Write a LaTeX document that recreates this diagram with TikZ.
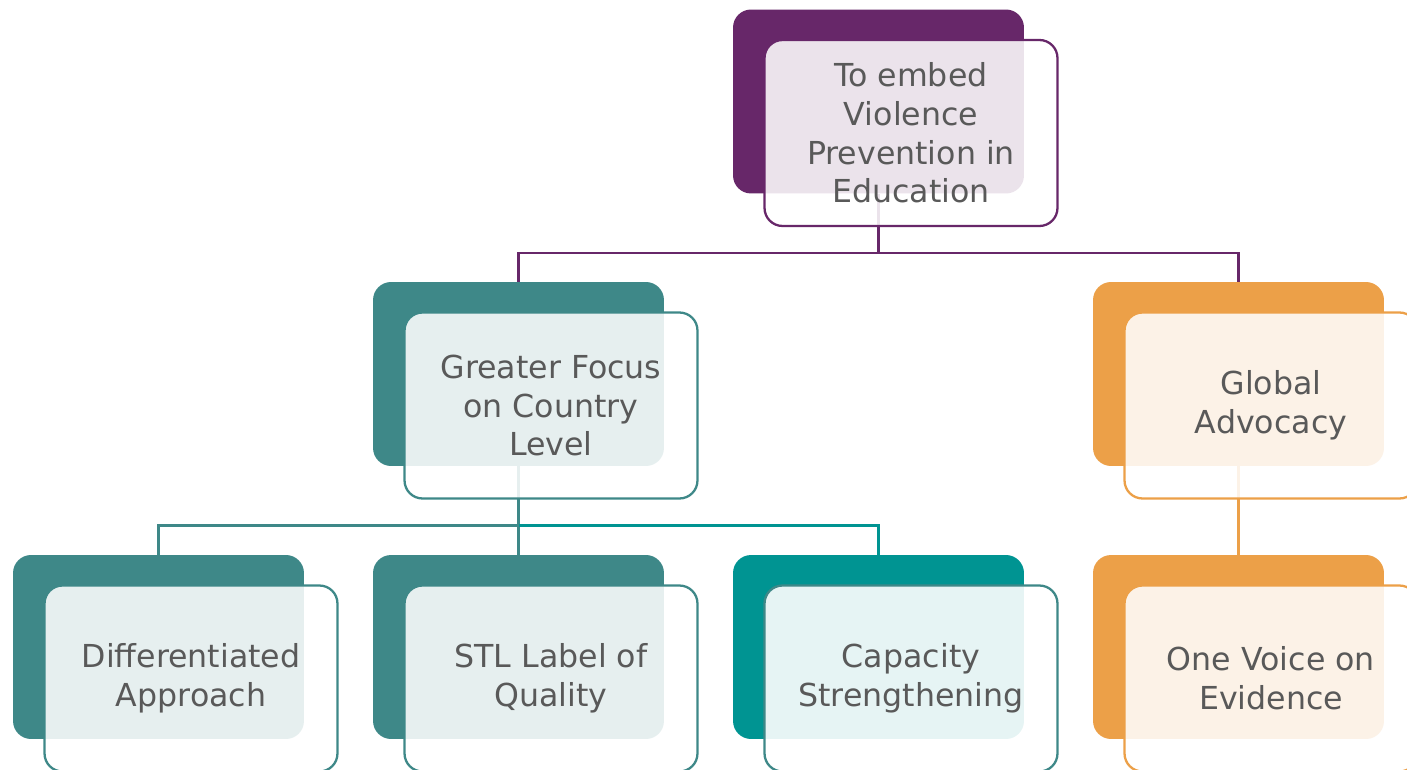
\documentclass[tikz,border=0pt]{standalone}
\usepackage{fontspec}
\setmainfont{DejaVu Sans}
\usepackage{tikz}
\usetikzlibrary{calc,backgrounds}
\usepackage{xcolor}
\definecolor{plum}{RGB}{103,39,105}
\definecolor{sea}{RGB}{62,136,136}
\definecolor{aqua}{RGB}{0,148,146}
\definecolor{amber}{RGB}{236,160,72}
\definecolor{txtgray}{RGB}{89,89,89}

\begin{document}
\begin{tikzpicture}[x=0.02cm, y=-0.02cm,
  back/.style={rounded corners=0.36cm, minimum width=5.82cm, minimum height=3.68cm, inner sep=0pt, fill=#1},
  front/.style={rounded corners=0.36cm, minimum width=5.86cm, minimum height=3.72cm, inner sep=0pt,
    draw=#1, line width=1.3pt, fill=white, fill opacity=0.87, text opacity=1, text=txtgray,
    align=center, font=\fontsize{18}{22}\selectfont},
  link/.style={draw=#1, line width=1.4pt}]

\useasboundingbox (0,0) rectangle (1407,770);

% top
\node[back=plum] (topb) at (878.5,101.5) {};
\node[front=plum] (topf) at ($(topb)+(32.5,31.5)$) {To embed\\Violence\\Prevention in\\Education};

% second row
\node[back=sea] (focb) at (518.5,374) {};
\node[front=sea] (focf) at ($(focb)+(32.5,31.5)$) {Greater Focus\\on Country\\Level};
\node[back=amber] (glob) at (1238.5,374) {};
\node[front=amber] (glof) at ($(glob)+(32.5,31.5)$) {Global\\Advocacy};

% third row
\node[back=sea] (difb) at (158.5,647) {};
\node[front=sea] (diff) at ($(difb)+(32.5,31.5)$) {Differentiated\\Approach};
\node[back=sea] (stlb) at (518.5,647) {};
\node[front=sea] (stlf) at ($(stlb)+(32.5,31.5)$) {STL Label of\\Quality};
\node[back=aqua] (capb) at (878.5,647) {};
\node[front=sea, fill opacity=0.9] (capf) at ($(capb)+(32.5,31.5)$) {Capacity\\Strengthening};
\node[back=amber] (oneb) at (1238.5,647) {};
\node[front=amber] (onef) at ($(oneb)+(32.5,31.5)$) {One Voice on\\Evidence};

% connectors under the boxes
\begin{scope}[on background layer]
\draw[link=plum] (topb.south) -- ++(0,59) -| (focb.north);
\draw[link=plum] (topb.south) -- ++(0,59) -| (glob.north);
\draw[link=sea] (focb.south) -- ++(0,59) -| (difb.north);
\draw[link=sea] (focb.south) -- (stlb.north);
\draw[link=aqua] (focb.south) ++(0,59) -| (capb.north);
\draw[link=amber] (glob.south) -- (oneb.north);
\end{scope}

\end{tikzpicture}
\end{document}
